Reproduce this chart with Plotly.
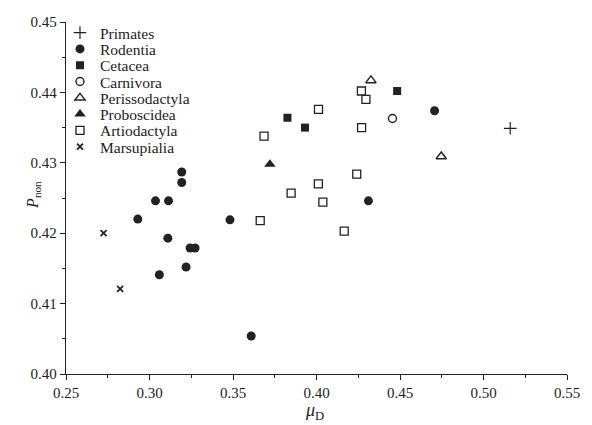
import plotly.graph_objects as go

# ---- data ----
primates_x = [0.516]
primates_y = [0.4349]

rodentia_x = [0.293, 0.3036, 0.3114, 0.3059, 0.3193, 0.3193, 0.3110, 0.3243, 0.3273,
              0.3219, 0.3482, 0.3609, 0.4311, 0.4707]
rodentia_y = [0.4220, 0.4246, 0.4246, 0.4141, 0.4287, 0.4272, 0.4193, 0.4179, 0.4179,
              0.4152, 0.4219, 0.4054, 0.4246, 0.4374]

cetacea_x = [0.3826, 0.3931, 0.4483]
cetacea_y = [0.4364, 0.4350, 0.4402]

carnivora_x = [0.4455]
carnivora_y = [0.4363]

perisso_x = [0.4326, 0.4747]
perisso_y = [0.4417, 0.4309]

probosc_x = [0.3721]
probosc_y = [0.4298]

artio_x = [0.3663, 0.3686, 0.3848, 0.4012, 0.4011, 0.4038, 0.4166, 0.4241, 0.4270,
           0.4269, 0.4296]
artio_y = [0.4218, 0.4338, 0.4257, 0.4376, 0.4270, 0.4244, 0.4203, 0.4284, 0.4350,
           0.4402, 0.4390]

marsup_x = [0.2725, 0.2824]
marsup_y = [0.4200, 0.4121]

INK = "#222222"
FONT = "Liberation Serif"

series = [
    ("Primates", primates_x, primates_y, dict(symbol="cross-thin", size=9, color=INK,
                                            line=dict(color=INK, width=1.2))),
    ("Rodentia", rodentia_x, rodentia_y, dict(symbol="circle", size=9, color=INK,
                                            line=dict(width=0))),
    ("Cetacea", cetacea_x, cetacea_y, dict(symbol="square", size=8, color=INK,
                                         line=dict(width=0))),
    ("Carnivora", carnivora_x, carnivora_y, dict(symbol="circle-open", size=8, color=INK,
                                               line=dict(color=INK, width=1.4))),
    ("Perissodactyla", perisso_x, perisso_y, dict(symbol="triangle-up-open", size=9, color=INK,
                                                line=dict(color=INK, width=1.4))),
    ("Proboscidea", probosc_x, probosc_y, dict(symbol="triangle-up", size=10, color=INK,
                                             line=dict(width=0))),
    ("Artiodactyla", artio_x, artio_y, dict(symbol="square-open", size=8, color=INK,
                                          line=dict(color=INK, width=1.3))),
    ("Marsupialia", marsup_x, marsup_y, dict(symbol="x-thin", size=6, color=INK,
                                           line=dict(color=INK, width=1.8))),
]

fig = go.Figure()

# plot area in pixels: x 66..572, y 22..374
top_px, bot_px = 22.0, 374.0
row0, row_gap = 33.0, 16.3
legends = {}
for i, (name, xs, ys, mk) in enumerate(series):
    lname = "legend" if i == 0 else f"legend{i + 1}"
    fig.add_trace(go.Scatter(x=xs, y=ys, mode="markers", name=name, marker=mk,
                             legend=lname, showlegend=True))
    py = row0 + row_gap * i
    legends[lname] = dict(
        x=-0.012, xanchor="left",
        y=(bot_px - py) / (bot_px - top_px), yanchor="middle",
        bgcolor="rgba(0,0,0,0)", borderwidth=0,
        font=dict(family=FONT, size=15.5, color=INK),
        itemclick=False, itemdoubleclick=False,
    )

fig.update_layout(**legends)

axis_common = dict(
    showline=True, linecolor=INK, linewidth=1.3, mirror=False,
    ticks="outside", ticklen=5, tickwidth=1.2, tickcolor=INK,
    showgrid=False, zeroline=False,
    tickfont=dict(family=FONT, size=15, color=INK),
)

fig.update_xaxes(range=[0.25, 0.55], dtick=0.05, tick0=0.25, tickformat=".2f",
                 minor=dict(dtick=0.025, ticks="outside", ticklen=3, tickcolor=INK,
                            tickwidth=1, showgrid=False),
                 **axis_common)
fig.update_yaxes(range=[0.40, 0.45], dtick=0.01, tick0=0.40, tickformat=".2f",
                 minor=dict(dtick=0.005, ticks="outside", ticklen=3, tickcolor=INK,
                            tickwidth=1, showgrid=False),
                 **axis_common)

fig.add_annotation(text="<i>μ</i><sub>D</sub>", xref="paper", yref="paper",
                   x=0.497, y=-0.068, xanchor="center", yanchor="top", showarrow=False,
                   font=dict(family=FONT, size=18, color=INK))
fig.add_annotation(text="<i>P</i><sub>non</sub>", xref="paper", yref="paper",
                   x=-0.088, y=0.51, showarrow=False, textangle=-90,
                   font=dict(family=FONT, size=16, color=INK))

fig.update_layout(
    width=592, height=425,
    margin=dict(l=66, r=20, t=22, b=51),
    paper_bgcolor="white", plot_bgcolor="white",
    font=dict(family=FONT, color=INK),
)

fig.write_html("out.html")
